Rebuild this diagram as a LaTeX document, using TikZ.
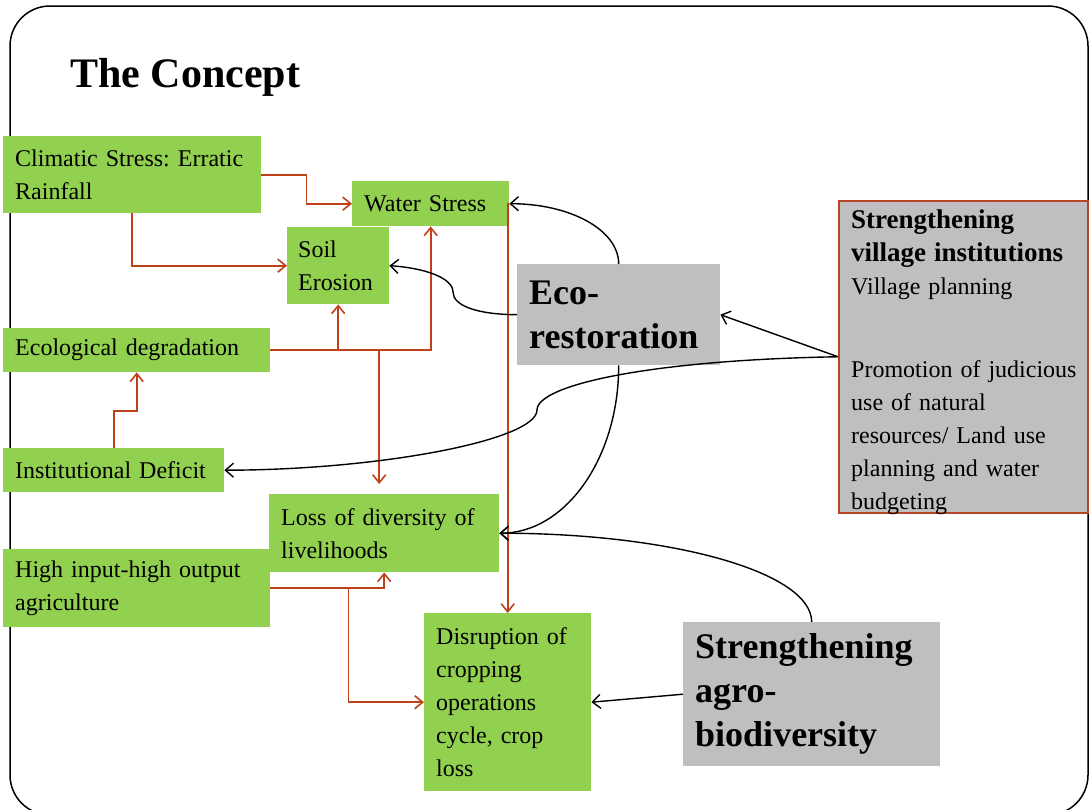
\documentclass[tikz,border=0pt]{standalone}
\usepackage{fontspec}
\setmainfont{Liberation Serif}
\usetikzlibrary{arrows.meta}
\definecolor{boxgreen}{RGB}{146,208,80}
\definecolor{boxgray}{RGB}{192,190,192}
\definecolor{arrred}{RGB}{190,65,25}
\definecolor{vilborder}{RGB}{180,70,40}
\frenchspacing
\begin{document}
\begin{tikzpicture}[x=1pt,y=-1pt,
  gbox/.style={fill=boxgreen, draw=none, anchor=north west, inner xsep=12pt, inner ysep=1pt, align=left, font=\fontsize{24}{33}\selectfont},
  graybox/.style={fill=boxgray, draw=none, anchor=north west, inner xsep=12pt, inner ysep=1pt, align=left, font=\bfseries\fontsize{36}{44}\selectfont},
  redline/.style={draw=arrred, line width=1.6pt},
  redarr/.style={redline, -{Straight Barb[length=8pt,width=13pt]}},
  blkarr/.style={draw=black, line width=1.4pt, -{Straight Barb[length=8pt,width=14pt]}}
]
\useasboundingbox (0,0) rectangle (1090,809);
\begin{scope}
  \clip (0,0) rectangle (1090,809);
  \draw[line width=1.5pt, rounded corners=40pt] (10,6) rectangle (1088,815);
\end{scope}

\node[anchor=base west, inner sep=0, font=\bfseries\fontsize{42}{48}\selectfont] (title) at (70,87) {The Concept};

% green boxes
\node[gbox, minimum width=258, text width=234, minimum height=77] (clim) at (3,136) {Climatic Stress: Erratic\\Rainfall};
\node[gbox, minimum width=157, text width=133, minimum height=45] (ws) at (352,181) {Water Stress};
\node[gbox, minimum width=102, text width=80, inner xsep=11pt, minimum height=77] (soil) at (287,227) {Soil\\Erosion};
\node[gbox, minimum width=267, text width=243, minimum height=44] (ecod) at (3,328) {Ecological degradation};
\node[gbox, minimum width=221, text width=197, minimum height=44] (inst) at (3,448) {Institutional Deficit};
\node[gbox, minimum width=230, text width=206, minimum height=78] (loss) at (269,494) {Loss of diversity of\\livelihoods};
\node[gbox, minimum width=267, text width=243, minimum height=78] (high) at (3,549) {High input-high output\\agriculture};
\node[gbox, minimum width=167, text width=143, minimum height=178] (dis) at (424,613) {Disruption of\\cropping\\operations\\cycle, crop\\loss};

% gray boxes
\node[graybox, minimum width=203, text width=179, minimum height=101] (eco) at (517,264) {Eco-\\restoration};
\node[graybox, minimum width=257, text width=233, minimum height=144] (agro) at (683,622) {Strengthening\\agro-\\biodiversity};
\node[fill=boxgray, draw=vilborder, line width=1.5pt, anchor=north west, minimum width=249, minimum height=312, inner sep=0] (vil) at (838,200) {};
\node[anchor=north west, inner sep=0, text width=235, align=left, font=\fontsize{24}{33}\selectfont] (viltxt) at (851,210)
  {{\bfseries\fontsize{27}{33}\selectfont Strengthening\\village institutions}\\Village planning\\[50pt]Promotion of judicious\\use of natural\\resources/ Land use\\planning and water\\budgeting};

% red connectors
\draw[redarr] (clim.east) -- ++(45,0) |- (ws.west);
\draw[redarr] (clim.south) |- (soil.west);
\draw[redarr] (ecod.east) -| (ws.south);
\draw[redarr] (ecod.east -| soil.south) -- (soil.south);
\path (loss.north) ++(-5,-10) coordinate (lossin);
\draw[redarr] (ecod.east -| lossin) -- (lossin);
\draw[redarr] (inst.north) -- ++(0,-37) -| (ecod.south);
\draw[redarr] (ws.east) -| (dis.north);
\draw[redarr] (high.east) -| (loss.south);
\path (high.east) ++(78,0) coordinate (hb);
\draw[redarr] (hb) |- (dis.west);

% black connectors
\draw[blkarr] (eco.north) .. controls +(0,-34) and +(61,0) .. (ws.east);
\draw[blkarr] (eco.west) .. controls (478,314.5) and (453,306) .. (453,292) .. controls (453,278) and (425,268) .. (soil.east);
\draw[blkarr] (eco.south) .. controls +(0,93) and +(66,0) .. (loss.east);
\draw[blkarr] (vil.west) -- (eco.east);
\draw[blkarr] (vil.west) .. controls (650,360) and (537,385) .. (537,410) .. controls (537,440) and (380,470) .. (inst.east);
\draw[blkarr] (agro.north) .. controls +(0,-50) and +(172,0) .. (loss.east);
\draw[blkarr] (agro.west) -- (dis.east);
\end{tikzpicture}
\end{document}
